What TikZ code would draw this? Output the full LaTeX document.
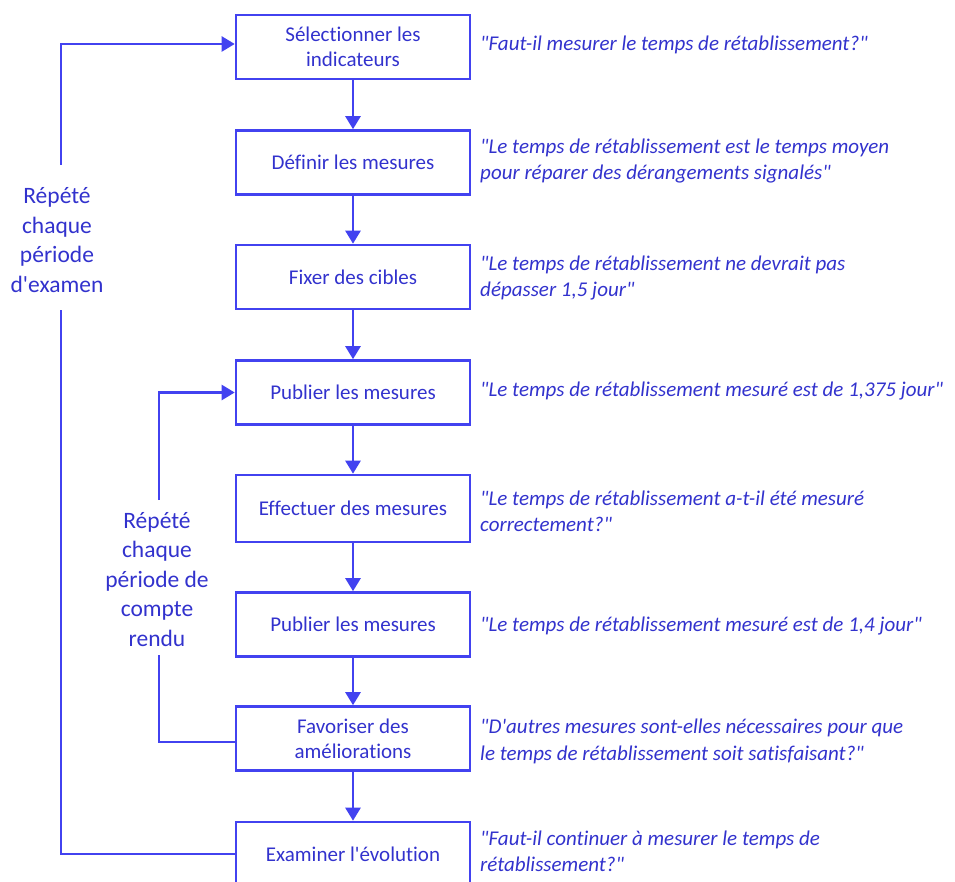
\documentclass[tikz,border=0pt]{standalone}
\usepackage{fontspec}
\setmainfont{Carlito}[Ligatures={TeXOff,CommonOff}]
\usetikzlibrary{arrows.meta}
\definecolor{lineblue}{RGB}{66,66,240}
\definecolor{textblue}{RGB}{50,50,205}
\begin{document}
\begin{tikzpicture}[x=1pt,y=-1pt,
 box/.style={draw=lineblue, line width=2.6pt, minimum width=234pt, minimum height=64pt, inner sep=0pt, align=center, text=textblue, font=\fontsize{21}{25}\selectfont},
 note/.style={anchor=west, align=left, text=textblue, font=\fontsize{21}{26.5}\selectfont\itshape, inner sep=0pt},
 side/.style={align=center, text=textblue, font=\fontsize{23.5}{29.5}\selectfont, inner sep=0pt},
 tip/.style={-{Triangle[width=15pt,length=13pt]}},
 conn/.style={draw=lineblue, line width=2.6pt, tip},
 loopline/.style={draw=lineblue, line width=2.4pt}
]
\useasboundingbox (0,0) rectangle (955,882);
\clip (0,0) rectangle (955,882);

\node[box] (b1) at (353,47) {Sélectionner les\\indicateurs};
\node[box] (b2) at (353,162.5) {Définir les mesures};
\node[box] (b3) at (353,277) {Fixer des cibles};
\node[box] (b4) at (353,392.5) {Publier les mesures};
\node[box, minimum height=67pt] (b5) at (353,508.5) {Effectuer des mesures};
\node[box] (b6) at (353,624.5) {Publier les mesures};
\node[box] (b7) at (353,738.5) {Favoriser des\\améliorations};
\node[box] (b8) at (353,854) {Examiner l'évolution};

\draw[conn] (b1) -- (b2);
\draw[conn] (b2) -- (b3);
\draw[conn] (b3) -- (b4);
\draw[conn] (b4) -- (b5);
\draw[conn] (b5) -- (b6);
\draw[conn] (b6) -- (b7);
\draw[conn] (b7) -- (b8);

\node[note] (n1) at (480,45) {"Faut-il mesurer le temps de rétablissement?"};
\node[note] (n2) at (480,161) {"Le temps de rétablissement est le temps moyen\\pour réparer des dérangements signalés"};
\node[note] (n3) at (480,278) {"Le temps de rétablissement ne devrait pas\\dépasser 1,5 jour"};
\node[note] (n4) at (480,391) {"Le temps de rétablissement mesuré est de 1,375 jour"};
\node[note] (n5) at (480,511.5) {"Le temps de rétablissement a-t-il été mesuré\\correctement?"};
\node[note] (n6) at (480,626) {"Le temps de rétablissement mesuré est de 1,4 jour"};
\node[note] (n7) at (480,741.5) {"D'autres mesures sont-elles nécessaires pour que\\le temps de rétablissement soit satisfaisant?"};
\node[note] (n8) at (480,851.5) {"Faut-il continuer à mesurer le temps de\\rétablissement?"};

\node[side] (outer) at (57,240) {Répété\\chaque\\période\\d'examen};
\node[side] (inner) at (157,579.5) {Répété\\chaque\\période de\\compte\\rendu};

\coordinate (o1) at (61,310);
\coordinate (o2) at (61,165);
\coordinate (i1) at (159,655);
\coordinate (i2) at (159,500);

\draw[loopline] (b8.west) -| (o1);
\draw[loopline, tip] (o2) |- ([yshift=3pt]b1.west);
\draw[loopline] ([yshift=-3.5pt]b7.west) -| (i1);
\draw[loopline, tip] (i2) |- (b4.west);
\end{tikzpicture}
\end{document}
